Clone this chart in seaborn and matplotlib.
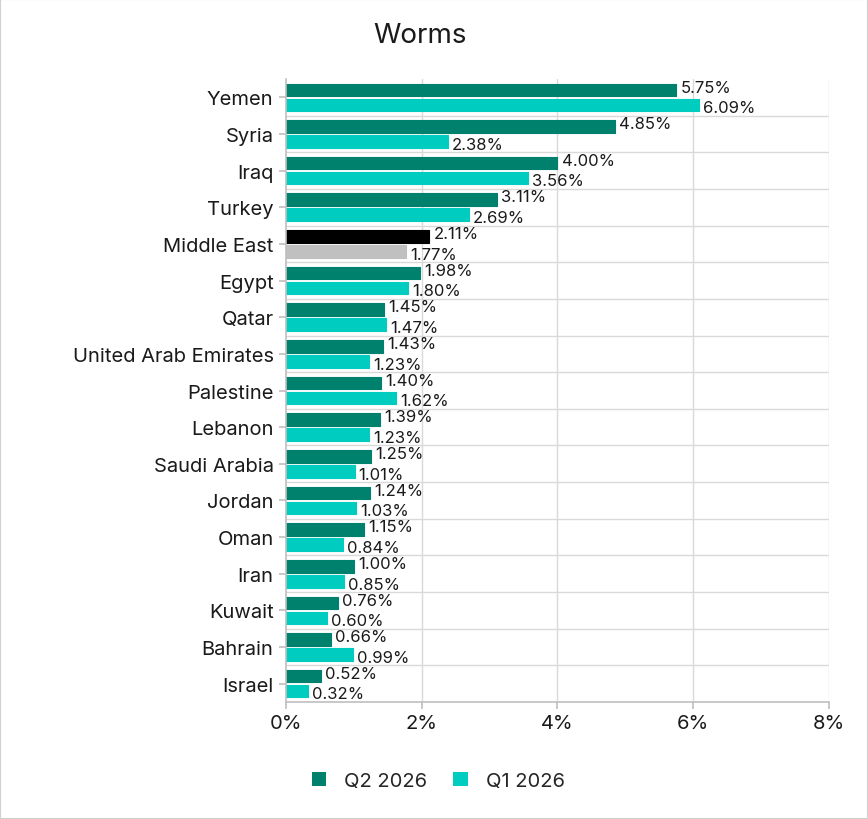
import pandas as pd
import numpy as np
import matplotlib
matplotlib.use('Agg')
import matplotlib.pyplot as plt
import seaborn as sns
from matplotlib.ticker import FuncFormatter, FixedLocator
from matplotlib.patches import Rectangle

paises = ['Yemen', 'Syria', 'Iraq', 'Turkey', 'Middle East', 'Egypt', 'Qatar',
          'United Arab Emirates', 'Palestine', 'Lebanon', 'Saudi Arabia', 'Jordan',
          'Oman', 'Iran', 'Kuwait', 'Bahrain', 'Israel']
q2_2026 = [5.75, 4.85, 4.00, 3.11, 2.11, 1.98, 1.45, 1.43, 1.40, 1.39, 1.25, 1.24,
           1.15, 1.00, 0.76, 0.66, 0.52]
q1_2026 = [6.09, 2.38, 3.56, 2.69, 1.77, 1.80, 1.47, 1.23, 1.62, 1.23, 1.01, 1.03,
           0.84, 0.85, 0.60, 0.99, 0.32]
series = ['Q2 2026', 'Q1 2026']

cores = {'Q2 2026': '#00816E', 'Q1 2026': '#00CCBF'}
destaque = 'Middle East'
cores_destaque = ['#000000', '#C0C0C0']

df = pd.DataFrame({'pais': paises * 2,
                   'valor': q2_2026 + q1_2026,
                   'serie': [series[0]] * len(paises) + [series[1]] * len(paises)})

sns.set_theme(style='white')
plt.rcParams['font.family'] = ['Inter', 'DejaVu Sans']

fig = plt.figure(figsize=(8.68, 8.2), dpi=100)
ax = fig.add_axes([0.3295, 0.1427, 0.6255, 0.7597])

sns.barplot(data=df, y='pais', x='valor', hue='serie', orient='h',
            palette=cores, saturation=1, width=0.82, gap=0.16, order=paises,
            hue_order=series, ax=ax, legend=True, linewidth=0)

# destacar Middle East + cantos arredondados (truque do joinstyle)
idx = paises.index(destaque)
desloc = [2.0, -2.0]  # afasta um pouco os rótulos das duas séries
for k, cont in enumerate(ax.containers):
    cont.patches[idx].set_facecolor(cores_destaque[k])
    for p in cont.patches:
        p.set_edgecolor(p.get_facecolor())
        p.set_linewidth(0.8)
        p.set_joinstyle('round')
    rotulos = ax.bar_label(cont, labels=[f'{v:.2f}%' for v in cont.datavalues],
                           padding=3, fontsize=12, color='#1a1a1a')
    for r in rotulos:
        r.xyann = (3, desloc[k])

ax.set_xlim(0, 8)
ax.set_ylim(len(paises) - 0.5, -0.5)
ax.xaxis.set_major_locator(FixedLocator([0, 2, 4, 6, 8]))
ax.xaxis.set_major_formatter(FuncFormatter(lambda v, p: f'{v:.0f}%'))
ax.set_xlabel('')
ax.set_ylabel('')

# grades
for xv in [2, 4, 6, 8]:
    ax.axvline(xv, color='#d9d9d9', lw=1, zorder=0)
for yv in np.arange(0.5, len(paises) - 1, 1):
    ax.axhline(yv, color='#d9d9d9', lw=1, zorder=0)

for s in ['top', 'right']:
    ax.spines[s].set_visible(False)
for s in ['left', 'bottom']:
    ax.spines[s].set_color('#bfbfbf')
    ax.spines[s].set_linewidth(1.2)

ax.tick_params(axis='y', length=5, color='#bfbfbf', width=1.2, labelsize=14.5,
               labelcolor='#1a1a1a', left=True, pad=4)
ax.tick_params(axis='x', length=5, color='#bfbfbf', width=1.2, labelsize=14.5,
               labelcolor='#1a1a1a', bottom=True, pad=4)

fig.text(0.484, 0.956, 'Worms', ha='center', va='center', fontsize=20, color='#1a1a1a')

handles, labels = ax.get_legend_handles_labels()
ax.get_legend().remove()
fig.legend(handles, labels, loc='center', bbox_to_anchor=(0.505, 0.046), ncol=2,
           frameon=False, fontsize=14.5, handlelength=0.7, handleheight=0.7,
           columnspacing=1.3, handletextpad=0.9)

fig.patches.append(Rectangle((0, 0), 1, 1, transform=fig.transFigure, fill=False,
                             edgecolor='#d0d0d0', lw=1.5))

fig.savefig('out.png', dpi=100)
